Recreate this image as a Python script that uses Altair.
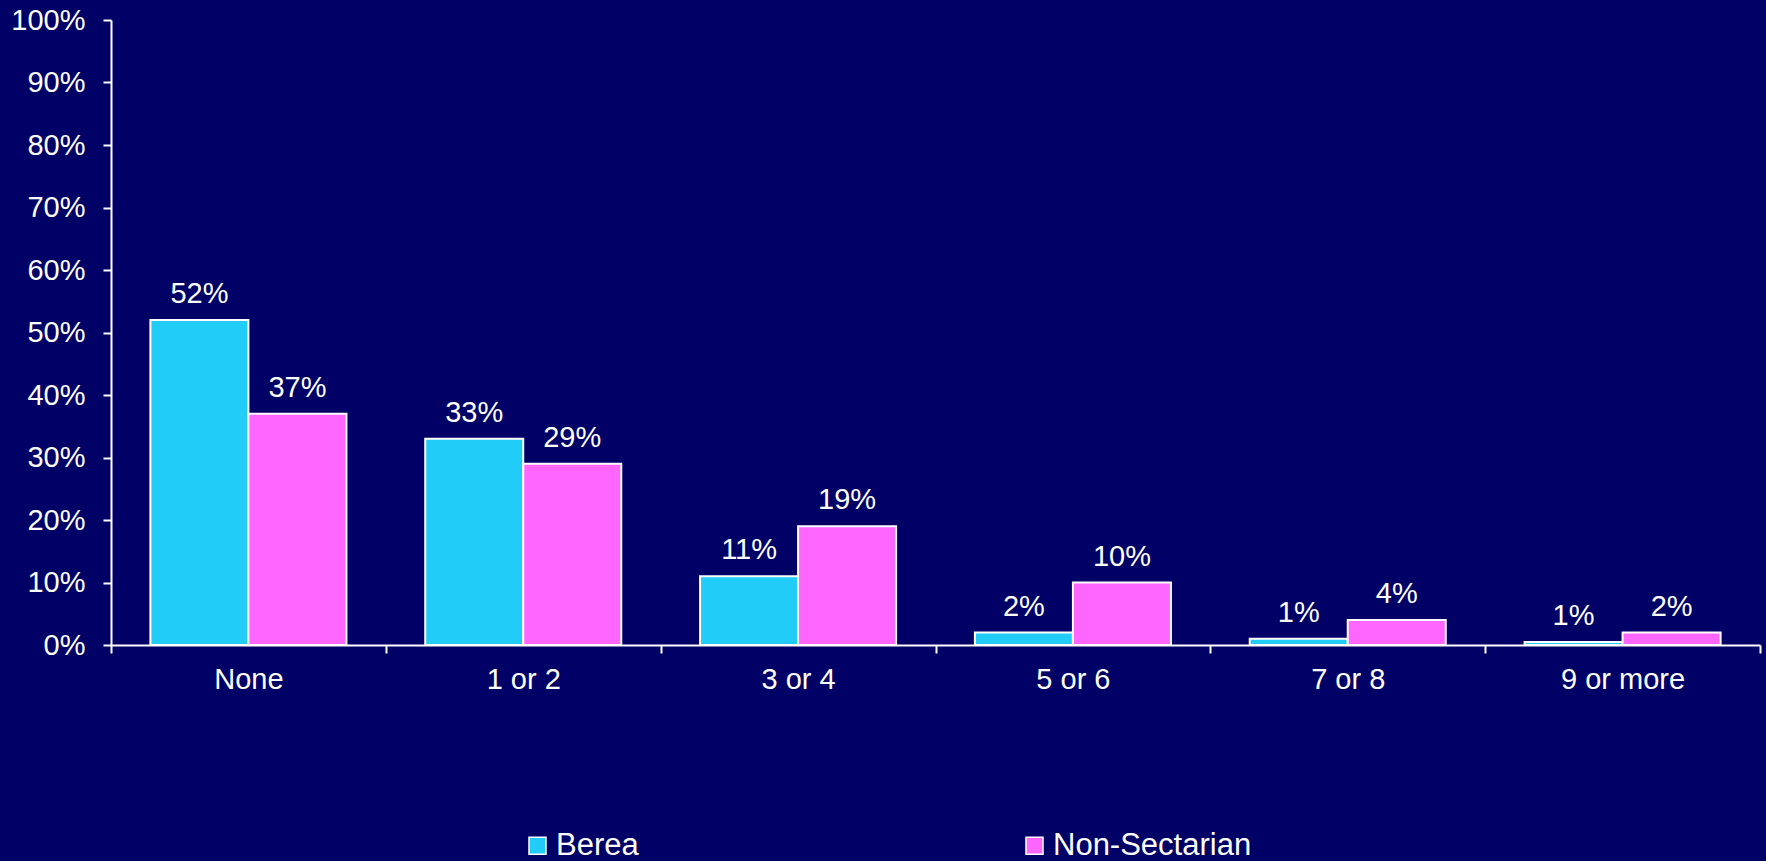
import altair as alt
import pandas as pd

categories = ["None", "1 or 2", "3 or 4", "5 or 6", "7 or 8", "9 or more"]
series = ["Berea", "Non-Sectarian"]
berea_values = [52, 33, 11, 2, 1, 0.5]
nonsec_values = [37, 29, 19, 10, 4, 2]
berea_labels = ["52%", "33%", "11%", "2%", "1%", "1%"]
nonsec_labels = ["37%", "29%", "19%", "10%", "4%", "2%"]
y_ticks = [0, 10, 20, 30, 40, 50, 60, 70, 80, 90, 100]
colors = ["#22CCF8", "#FF66FF"]

rows = []
for c, v, l in zip(categories, berea_values, berea_labels):
    rows.append({"cat": c, "series": "Berea", "value": v, "label": l})
for c, v, l in zip(categories, nonsec_values, nonsec_labels):
    rows.append({"cat": c, "series": "Non-Sectarian", "value": v, "label": l})
df = pd.DataFrame(rows)

FONT = "Liberation Sans"

x_enc = alt.X(
    "cat:N",
    sort=categories,
    scale=alt.Scale(paddingInner=0, paddingOuter=0),
    axis=alt.Axis(
        title=None,
        labelAngle=0,
        labelColor="white",
        labelFont=FONT,
        labelFontSize=29,
        labelPadding=12,
        domainColor="white",
        domainWidth=2,
        tickColor="white",
        tickWidth=2,
        tickSize=8,
        tickBand="extent",
    ),
)
xoff_enc = alt.XOffset("series:N", sort=series, scale=alt.Scale(paddingInner=0, paddingOuter=0.402))
y_enc = alt.Y(
    "value:Q",
    scale=alt.Scale(domain=[0, 100], nice=False),
    axis=alt.Axis(
        title=None,
        values=y_ticks,
        labelExpr="datum.value + '%'",
        labelColor="white",
        labelFont=FONT,
        labelFontSize=29,
        labelPadding=18,
        domainColor="white",
        domainWidth=2,
        tickColor="white",
        tickWidth=2,
        tickSize=8,
        grid=False,
    ),
)

bars = alt.Chart(df).mark_bar(stroke="white", strokeWidth=2).encode(
    x=x_enc,
    xOffset=xoff_enc,
    y=y_enc,
    color=alt.Color(
        "series:N",
        sort=series,
        scale=alt.Scale(domain=series, range=colors),
        legend=alt.Legend(
            title=None,
            orient="none",
            direction="horizontal",
            legendX=411,
            legendY=810,
            symbolType="square",
            symbolSize=289,
            symbolStrokeColor="white",
            symbolStrokeWidth=1.5,
            symbolOpacity=1,
            labelColor="white",
            labelFont=FONT,
            labelFontSize=31,
            labelOffset=3,
            labelLimit=500,
            columnPadding=380,
            padding=0,
        ),
    ),
)

text = alt.Chart(df).mark_text(
    dy=-17, baseline="alphabetic", fontSize=29, color="white", font=FONT
).encode(x=x_enc, xOffset=xoff_enc, y=y_enc, text="label:N")

chart = (
    alt.layer(bars, text)
    .properties(
        width=1649,
        height=625,
        background="#000066",
        autosize=alt.AutoSizeParams(type="none"),
        padding={"left": 111, "top": 20, "right": 6, "bottom": 216},
    )
    .configure_view(stroke=None)
)

chart.save("out.html", embed_options={"renderer": "svg", "actions": False})
